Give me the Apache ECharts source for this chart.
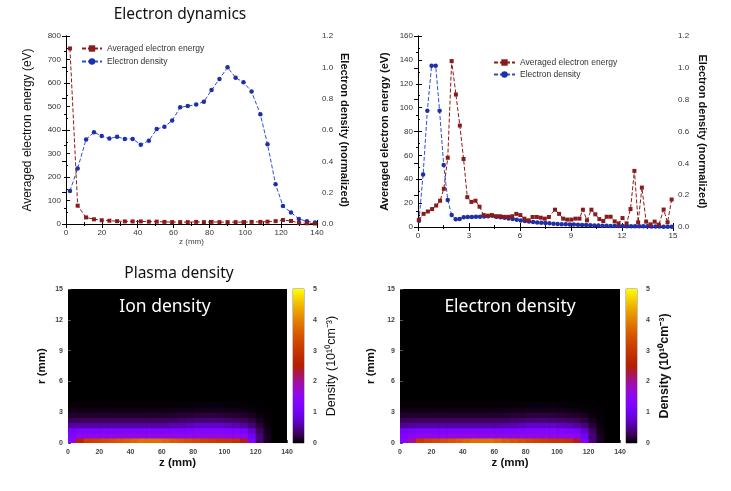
<!DOCTYPE html>
<html><head><meta charset="utf-8">
<script src="https://cdn.jsdelivr.net/npm/echarts@6/dist/echarts.min.js"></script>
<style>html,body{margin:0;padding:0;background:#fff}#c{width:731px;height:491px}</style>
</head><body><div id="c"></div>
<script>
// ---------- Data: top-left (z 0..140 mm) ----------
const TL_Z = [2.2,6.5,11.2,15.6,19.9,24.2,28.5,32.8,37.2,41.7,46.2,50.6,54.9,59.2,63.7,67.9,72.6,76.9,81.2,85.6,90.1,94.6,99.0,103.5,108.4,112.4,116.9,121.0,125.5,129.9,134.4,138.9];
const TL_ENERGY = [747,78,28,20,16,14,12,11,11,11,10,10,9,8,8,8,9,8,9,8,8,8,8,9,9,10,12,17,13,5,3,2];
const TL_DENSITY = [0.211,0.355,0.540,0.585,0.562,0.545,0.557,0.543,0.543,0.506,0.532,0.606,0.621,0.660,0.745,0.753,0.762,0.781,0.855,0.926,1.0,0.934,0.904,0.845,0.700,0.509,0.253,0.115,0.074,0.032,0.017,0.009];

// ---------- Data: top-right (z 0..15 mm) ----------
const TR_E_Z = [0.05,0.33,0.58,0.83,1.07,1.3,1.52,1.75,1.98,2.23,2.46,2.68,2.9,3.14,3.38,3.62,3.86,4.1,4.34,4.58,4.82,5.06,5.3,5.54,5.78,6.02,6.26,6.5,6.74,6.98,7.22,7.46,7.7,8.06,8.3,8.54,8.78,9.02,9.26,9.5,9.7,9.94,10.2,10.43,10.67,10.9,11.1,11.33,11.57,11.8,12.03,12.27,12.5,12.73,12.95,13.17,13.42,13.67,13.92,14.17,14.45,14.68,14.92];
const TR_ENERGY = [6,11,13,15,18,22,32,58,139,111,85,57,25,21,22,17,10,9.5,10,9,9,8.5,8.5,9,11,10,7,5.6,8.4,8.4,7.8,7,8.4,14.5,11,7,6.2,6.2,7,7,14.5,5.6,14.5,10.6,6.6,5,8.6,8.6,4.7,3,7.5,3,15,47,3.9,33,4.5,2.2,4.5,2,14.6,3.9,23];
const TR_D_Z = [0.06,0.3,0.55,0.8,1.04,1.27,1.51,1.75,1.98,2.22,2.45,2.69,2.93,3.17,3.41,3.65,3.89,4.13,4.37,4.61,4.85,5.09,5.33,5.57,5.81,6.05,6.29,6.53,6.77,7.01,7.25,7.49,7.73,7.97,8.21,8.45,8.69,8.93,9.17,9.41,9.65,9.89,10.13,10.37,10.61,10.85,11.09,11.33,11.57,11.81,12.05,12.29,12.53,12.77,13.01,13.25,13.49,13.73,13.97,14.21,14.45,14.69,14.93];
const TR_DENSITY = [0.04,0.33,0.73,1.013,1.013,0.73,0.39,0.17,0.075,0.048,0.05,0.062,0.063,0.063,0.064,0.065,0.066,0.068,0.07,0.064,0.061,0.058,0.054,0.05,0.045,0.041,0.037,0.034,0.031,0.029,0.027,0.025,0.023,0.021,0.019,0.018,0.017,0.016,0.015,0.014,0.013,0.012,0.011,0.010,0.009,0.008,0.008,0.007,0.007,0.006,0.006,0.005,0.005,0.005,0.004,0.004,0.004,0.003,0.003,0.003,0.002,0.002,0.002];

// ---------- Data: plasma density maps (rows: r bins of 0.5 mm from r=0; cols: z bins of 5 mm from z=0), 1e10 cm^-3 ----------
const CELL_DZ = 5, CELL_DR = 0.5;
const ION_DENSITY = [
 [1.4,2.6,3.1,3.2,3.3,3.4,3.5,3.6,3.7,3.8,3.8,3.8,3.7,3.6,3.5,3.4,3.3,3.2,3.1,3.0,3.0,2.9,2.4,1.2,0.4,0.1,0,0],
 [1.3,1.5,1.55,1.55,1.55,1.55,1.6,1.6,1.6,1.6,1.6,1.6,1.6,1.6,1.6,1.6,1.6,1.6,1.6,1.6,1.55,1.55,1.45,1.0,0.4,0.1,0,0],
 [1.1,1.2,1.2,1.2,1.2,1.2,1.2,1.2,1.2,1.2,1.2,1.2,1.2,1.2,1.2,1.25,1.3,1.3,1.3,1.3,1.25,1.2,1.1,0.75,0.3,0.08,0,0],
 [0.55,0.6,0.6,0.6,0.6,0.6,0.6,0.6,0.6,0.6,0.6,0.6,0.6,0.65,0.65,0.7,0.75,0.75,0.75,0.75,0.7,0.65,0.55,0.4,0.18,0.05,0,0],
 [0.3,0.3,0.3,0.3,0.3,0.3,0.3,0.3,0.3,0.3,0.3,0.3,0.3,0.32,0.34,0.36,0.38,0.4,0.4,0.38,0.35,0.32,0.28,0.2,0.1,0.03,0,0],
 [0.15,0.15,0.15,0.15,0.15,0.15,0.15,0.15,0.15,0.15,0.15,0.15,0.15,0.16,0.17,0.18,0.2,0.2,0.2,0.19,0.18,0.16,0.14,0.1,0.05,0.02,0,0],
 [0.07,0.07,0.07,0.07,0.07,0.07,0.07,0.07,0.07,0.07,0.07,0.07,0.07,0.07,0.08,0.08,0.09,0.09,0.09,0.09,0.08,0.07,0.06,0.04,0.02,0.01,0,0],
 [0.03,0.03,0.03,0.03,0.03,0.03,0.03,0.03,0.03,0.03,0.03,0.03,0.03,0.03,0.03,0.03,0.04,0.04,0.04,0.04,0.03,0.03,0.02,0.02,0.01,0,0,0]
];
const ELECTRON_DENSITY = [
 [1.3,2.0,3.0,3.2,3.3,3.4,3.5,3.6,3.7,3.8,3.8,3.8,3.7,3.6,3.5,3.4,3.3,3.2,3.1,3.0,3.0,2.9,2.4,1.2,0.4,0.1,0,0],
 [1.25,1.45,1.55,1.55,1.55,1.55,1.6,1.6,1.6,1.6,1.6,1.6,1.6,1.6,1.6,1.6,1.6,1.6,1.6,1.6,1.55,1.55,1.45,1.0,0.4,0.1,0,0],
 [1.05,1.15,1.2,1.2,1.2,1.2,1.2,1.2,1.2,1.2,1.2,1.2,1.2,1.2,1.2,1.25,1.3,1.3,1.3,1.3,1.25,1.2,1.1,0.75,0.3,0.08,0,0],
 [0.5,0.55,0.6,0.6,0.6,0.6,0.6,0.6,0.6,0.6,0.6,0.6,0.6,0.65,0.65,0.7,0.75,0.75,0.75,0.75,0.7,0.65,0.55,0.4,0.18,0.05,0,0],
 [0.28,0.3,0.3,0.3,0.3,0.3,0.3,0.3,0.3,0.3,0.3,0.3,0.3,0.32,0.34,0.36,0.38,0.4,0.4,0.38,0.35,0.32,0.28,0.2,0.1,0.03,0,0],
 [0.14,0.15,0.15,0.15,0.15,0.15,0.15,0.15,0.15,0.15,0.15,0.15,0.15,0.16,0.17,0.18,0.2,0.2,0.2,0.19,0.18,0.16,0.14,0.1,0.05,0.02,0,0],
 [0.06,0.07,0.07,0.07,0.07,0.07,0.07,0.07,0.07,0.07,0.07,0.07,0.07,0.07,0.08,0.08,0.09,0.09,0.09,0.09,0.08,0.07,0.06,0.04,0.02,0.01,0,0],
 [0.03,0.03,0.03,0.03,0.03,0.03,0.03,0.03,0.03,0.03,0.03,0.03,0.03,0.03,0.03,0.03,0.04,0.04,0.04,0.04,0.03,0.03,0.02,0.02,0.01,0,0,0]
];
const CBAR_RANGE = [0, 5];
const PALETTE = ['#000000','#39004f','#510096','#6301ce','#7202f3','#8004ff','#8c07f3','#970bce','#a11096','#ab174f','#b42000','#bd2a00','#c63700','#ce4600','#d55700','#dd6c00','#e48300','#eb9d00','#f2ba00','#f9db00','#ffff00'];

const SERIES_E = 'Averaged electron energy';
const SERIES_D = 'Electron density';

// ---------- helpers ----------
const pairs = (xs, ys) => xs.map((x, i) => [x, ys[i]]);
function cells(mat) {
  const out = [];
  mat.forEach((row, i) => row.forEach((v, j) => out.push([j * CELL_DZ, i * CELL_DR, v])));
  return out;
}
function heatCell(params, api) {
  const z0 = api.value(0), r0 = api.value(1);
  const a = api.coord([z0, r0]), b = api.coord([z0 + CELL_DZ, r0 + CELL_DR]);
  return { type: 'rect', shape: { x: a[0], y: b[1], width: b[0] - a[0] + 0.6, height: a[1] - b[1] + 0.6 },
           style: { fill: api.visual('color') } };
}
function cbarRect(params, api) {
  const a = api.coord([0, CBAR_RANGE[0]]), b = api.coord([1, CBAR_RANGE[1]]);
  const stops = PALETTE.map((c, i) => ({ offset: i / (PALETTE.length - 1), color: c }));
  return { type: 'rect', shape: { x: a[0], y: b[1], width: b[0] - a[0], height: a[1] - b[1] },
           style: { fill: { type: 'linear', x: 0, y: 1, x2: 0, y2: 0, colorStops: stops } } };
}

const FONT = 'Liberation Sans';
const tickLbl = { fontSize: 8, color: '#333', fontFamily: FONT };
function lineXAxis(grid, max, interval, name) {
  return { type: 'value', gridIndex: grid, min: 0, max: max, interval: interval, position: 'bottom',
    name: name || '', nameLocation: 'middle', nameGap: 13, nameTextStyle: { fontSize: 8, color: '#444', fontFamily: FONT },
    axisLine: { lineStyle: { color: '#000' } }, axisTick: { inside: true, length: 4, lineStyle: { color: '#000' } },
    minorTick: { show: true, splitNumber: 2, length: 2, lineStyle: { color: '#000' } },
    axisLabel: Object.assign({ margin: 5 }, tickLbl), splitLine: { show: false } };
}
function mirrorXAxis(grid, max, interval) {
  return { type: 'value', gridIndex: grid, min: 0, max: max, interval: interval, position: 'top',
    axisLine: { lineStyle: { color: '#000' } }, axisTick: { inside: true, length: 4, lineStyle: { color: '#000' } },
    minorTick: { show: true, splitNumber: 2, length: 2, lineStyle: { color: '#000' } },
    axisLabel: { show: false }, splitLine: { show: false } };
}
function lineYAxis(grid, pos, max, interval, name, gap, bold, dec, fs) {
  return { type: 'value', gridIndex: grid, min: 0, max: max, interval: interval, position: pos,
    name: name, nameLocation: 'middle', nameGap: gap, nameRotate: pos === 'right' ? -90 : 90,
    nameTextStyle: { fontSize: fs, color: '#111', fontWeight: bold ? 'bold' : 'normal', fontFamily: FONT },
    axisLine: { show: true, lineStyle: { color: '#000' } }, axisTick: { inside: true, length: 4, lineStyle: { color: '#000' } },
    minorTick: { show: true, splitNumber: 2, length: 2, lineStyle: { color: '#000' } },
    axisLabel: Object.assign({ margin: 5, formatter: v => dec ? v.toFixed(1) : String(v) }, tickLbl), splitLine: { show: false } };
}
const heatLbl = { fontSize: 7, color: '#444', fontWeight: 'bold', fontFamily: FONT };
function heatXAxis(grid) {
  return { type: 'value', gridIndex: grid, min: 0, max: 140, interval: 20,
    name: 'z (mm)', nameLocation: 'middle', nameGap: 14,
    nameTextStyle: { fontSize: 11.5, fontWeight: 'bold', color: '#111', fontFamily: FONT },
    axisLine: { show: false }, axisTick: { inside: true, length: 3, lineStyle: { color: '#555' } },
    axisLabel: Object.assign({ margin: 6 }, heatLbl), splitLine: { show: false } };
}
function heatYAxis(grid, gap) {
  return { type: 'value', gridIndex: grid, min: 0, max: 15, interval: 3,
    name: 'r (mm)', nameLocation: 'middle', nameGap: gap, nameRotate: 90,
    nameTextStyle: { fontSize: 11.5, fontWeight: 'bold', color: '#111', fontFamily: FONT },
    axisLine: { show: false }, axisTick: { inside: true, length: 3, lineStyle: { color: '#555' } },
    axisLabel: Object.assign({ margin: 5 }, heatLbl), splitLine: { show: false } };
}
function cbarXAxis(grid) {
  return { type: 'value', gridIndex: grid, min: 0, max: 1, show: false };
}
function cbarYAxis(grid, bold) {
  return { type: 'value', gridIndex: grid, min: CBAR_RANGE[0], max: CBAR_RANGE[1], interval: 1, position: 'right',
    name: 'Density (10¹⁰cm⁻³)', nameLocation: 'middle', nameGap: 21, nameRotate: 90,
    nameTextStyle: { fontSize: 12.5, fontWeight: bold ? 'bold' : 'normal', color: '#111', fontFamily: FONT },
    axisLine: { show: false }, axisTick: { show: false },
    axisLabel: Object.assign({ margin: 9 }, heatLbl), splitLine: { show: false } };
}
function energySeries(x, y, data) {
  return { name: SERIES_E, type: 'line', xAxisIndex: x, yAxisIndex: y, data: data, symbol: 'rect', symbolSize: 4,
    color: '#8b1a1a', lineStyle: { width: 1, type: [4, 2], color: '#8b1a1a' }, itemStyle: { color: '#8b1a1a' }, z: 3 };
}
function densitySeries(x, y, data) {
  return { name: SERIES_D, type: 'line', xAxisIndex: x, yAxisIndex: y, data: data, symbol: 'circle', symbolSize: 4.5,
    color: '#2236b8', lineStyle: { width: 1, type: [4, 2], color: '#2d4fd0' }, itemStyle: { color: '#1f2fa8' }, z: 2 };
}
const legendText = { fontSize: 8.5, color: '#333', fontFamily: FONT };

const chart = echarts.init(document.getElementById('c'), null, { renderer: 'canvas' });
chart.setOption({
  animation: false,
  backgroundColor: '#fff',
  grid: [
    { left: 66, top: 36, width: 251, height: 188 },
    { left: 418, top: 36, width: 255, height: 191 },
    { left: 68, top: 289, width: 219, height: 154, show: true, backgroundColor: '#000', borderWidth: 0 },
    { left: 293, top: 289, width: 11, height: 154, show: true, borderColor: '#888', borderWidth: 1 },
    { left: 400, top: 289, width: 220, height: 154, show: true, backgroundColor: '#000', borderWidth: 0 },
    { left: 626, top: 289, width: 11, height: 154, show: true, borderColor: '#888', borderWidth: 1 }
  ],
  xAxis: [
    lineXAxis(0, 140, 20, 'z (mm)'), mirrorXAxis(0, 140, 20),
    lineXAxis(1, 15, 3), mirrorXAxis(1, 15, 3),
    heatXAxis(2), cbarXAxis(3), heatXAxis(4), cbarXAxis(5)
  ],
  yAxis: [
    lineYAxis(0, 'left', 800, 100, 'Averaged electron energy (eV)', 32, false, false, 12),
    lineYAxis(0, 'right', 1.2, 0.2, 'Electron density (normalized)', 22, true, true, 11),
    lineYAxis(1, 'left', 160, 20, 'Averaged electron energy (eV)', 28, true, false, 11),
    lineYAxis(1, 'right', 1.2, 0.2, 'Electron density (normalized)', 24, true, true, 11),
    heatYAxis(2, 20), cbarYAxis(3, false), heatYAxis(4, 23), cbarYAxis(5, true)
  ],
  legend: [
    { left: 76, top: 39, orient: 'vertical', itemGap: 4, itemWidth: 20, itemHeight: 8, textStyle: legendText, data: [SERIES_E, SERIES_D] },
    { left: 488, top: 53, orient: 'vertical', itemGap: 3, itemWidth: 21, itemHeight: 8, textStyle: legendText, data: [SERIES_E, SERIES_D] }
  ],
  visualMap: {
    type: 'continuous', show: false, min: CBAR_RANGE[0], max: CBAR_RANGE[1], dimension: 2, seriesIndex: [4, 6],
    inRange: { color: PALETTE }
  },
  series: [
    energySeries(0, 0, pairs(TL_Z, TL_ENERGY)),
    densitySeries(0, 1, pairs(TL_Z, TL_DENSITY)),
    energySeries(2, 2, pairs(TR_E_Z, TR_ENERGY)),
    densitySeries(2, 3, pairs(TR_D_Z, TR_DENSITY)),
    { type: 'custom', xAxisIndex: 4, yAxisIndex: 4, renderItem: heatCell, data: cells(ION_DENSITY), encode: { x: 0, y: 1 }, clip: true, silent: true },
    { type: 'custom', xAxisIndex: 5, yAxisIndex: 5, renderItem: cbarRect, data: [[0, CBAR_RANGE[0]]], encode: { x: 0, y: 1 }, silent: true },
    { type: 'custom', xAxisIndex: 6, yAxisIndex: 6, renderItem: heatCell, data: cells(ELECTRON_DENSITY), encode: { x: 0, y: 1 }, clip: true, silent: true },
    { type: 'custom', xAxisIndex: 7, yAxisIndex: 7, renderItem: cbarRect, data: [[0, CBAR_RANGE[0]]], encode: { x: 0, y: 1 }, silent: true }
  ],
  graphic: [
    { type: 'text', x: 180, y: 15, style: { text: 'Electron dynamics', fontSize: 15.5, fontFamily: 'Noto Sans', fill: '#111', textAlign: 'center', textVerticalAlign: 'middle' } },
    { type: 'text', x: 179, y: 274, style: { text: 'Plasma density', fontSize: 15.5, fontFamily: 'Noto Sans', fill: '#111', textAlign: 'center', textVerticalAlign: 'middle' } },
    { type: 'text', x: 165, y: 307, z: 100, style: { text: 'Ion density', fontSize: 17.5, fontFamily: 'Noto Sans', fill: '#fff', textAlign: 'center', textVerticalAlign: 'middle' } },
    { type: 'text', x: 510, y: 307, z: 100, style: { text: 'Electron density', fontSize: 17.5, fontFamily: 'Noto Sans', fill: '#fff', textAlign: 'center', textVerticalAlign: 'middle' } }
  ]
});
</script></body></html>
